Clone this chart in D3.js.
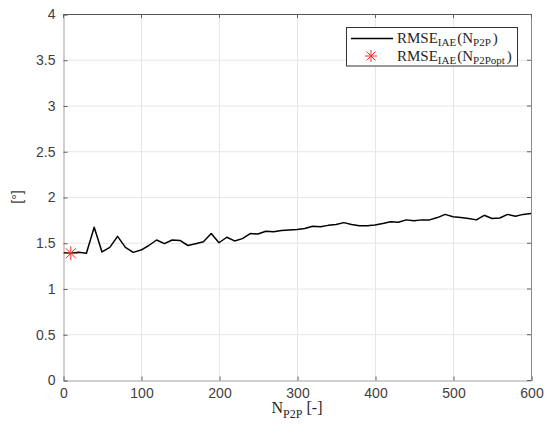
<!DOCTYPE html>
<html>
<head>
<meta charset="utf-8">
<script src="https://cdn.jsdelivr.net/npm/d3@7"></script>
<style>
  html, body { margin: 0; padding: 0; background: #fff; }
  svg { display: block; }
</style>
</head>
<body>
<svg id="chart" width="547" height="433"></svg>
<script>
// Window length N_P2P and resulting RMSE of the IAE
const nP2P = [1, 10, 20, 30, 40, 50, 60, 70, 80, 90, 100, 110, 120, 130, 140, 150, 160, 170, 180, 190, 200,
  210, 220, 230, 240, 250, 260, 270, 280, 290, 300, 310, 320, 330, 340, 350, 360, 370, 380, 390, 400,
  410, 420, 430, 440, 450, 460, 470, 480, 490, 500, 510, 520, 530, 540, 550, 560, 570, 580, 590, 600];
const rmse = [1.39, 1.385, 1.395, 1.385, 1.67, 1.40, 1.45, 1.57, 1.45, 1.395, 1.42, 1.47, 1.53, 1.49, 1.53, 1.525, 1.47, 1.49, 1.51, 1.60, 1.50,
  1.56, 1.52, 1.545, 1.60, 1.595, 1.625, 1.62, 1.635, 1.64, 1.645, 1.655, 1.68, 1.675, 1.69, 1.70, 1.72, 1.70, 1.685, 1.685, 1.695,
  1.71, 1.73, 1.725, 1.75, 1.74, 1.75, 1.75, 1.775, 1.81, 1.785, 1.775, 1.765, 1.75, 1.80, 1.765, 1.77, 1.81, 1.79, 1.81, 1.82];

// Optimal window
const optN = [10];
const optRmse = [1.385];

const xTicks = [0, 100, 200, 300, 400, 500, 600];
const yTicks = [0, 0.5, 1, 1.5, 2, 2.5, 3, 3.5, 4];

const svg = d3.select("#chart");
const m = { left: 63, right: 16, top: 14, bottom: 53 };
const W = 547, H = 433;
const x = d3.scaleLinear().domain([0, 600]).range([m.left, W - m.right]);
const y = d3.scaleLinear().domain([0, 4]).range([H - m.bottom, m.top]);

const sans = "'Liberation Sans', Arial, Helvetica, sans-serif";
const serif = "'Liberation Serif', 'Times New Roman', serif";
const tickColor = "#404040";

// grid
const grid = svg.append("g");
grid.selectAll("line.gx").data(xTicks.slice(1, -1)).join("line")
  .attr("x1", d => x(d) + 0.5).attr("x2", d => x(d) + 0.5)
  .attr("y1", y(0)).attr("y2", y(4))
  .attr("stroke", "#e6e6e6").attr("stroke-width", 1);
grid.selectAll("line.gy").data(yTicks.slice(1, -1)).join("line")
  .attr("x1", x(0)).attr("x2", x(600))
  .attr("y1", d => y(d) + 0.5).attr("y2", d => y(d) + 0.5)
  .attr("stroke", "#e6e6e6").attr("stroke-width", 1);

// axes (ticks pointing inward)
const xAxis = d3.axisBottom(x).tickValues(xTicks).tickSize(-4).tickPadding(8).tickFormat(d3.format("d"));
const yAxis = d3.axisLeft(y).tickValues(yTicks).tickSize(-4).tickPadding(8).tickFormat(d => String(d));

const gx = svg.append("g").attr("transform", `translate(0.5,${y(0) + 0.5})`).call(xAxis);
const gy = svg.append("g").attr("transform", `translate(${x(0) + 0.5},0.5)`).call(yAxis);
[gx, gy].forEach(g => {
  g.select(".domain").attr("stroke", "#a0a0a0");
  g.selectAll(".tick line").attr("stroke", "#606060");
  g.selectAll(".tick text").attr("fill", tickColor).style("font-family", sans).style("font-size", "14px");
});

// top and right frame with inward ticks
const frame = svg.append("g");
frame.append("line").attr("x1", x(0)).attr("x2", x(600) + 0.5).attr("y1", y(4) + 0.5).attr("y2", y(4) + 0.5).attr("stroke", "#555");
frame.append("line").attr("x1", x(600) + 0.5).attr("x2", x(600) + 0.5).attr("y1", y(4)).attr("y2", y(0) + 0.5).attr("stroke", "#8a8a8a");
frame.selectAll("line.tt").data(xTicks).join("line")
  .attr("x1", d => x(d) + 0.5).attr("x2", d => x(d) + 0.5)
  .attr("y1", y(4)).attr("y2", y(4) + 4).attr("stroke", "#606060");
frame.selectAll("line.rt").data(yTicks).join("line")
  .attr("x1", x(600) - 4).attr("x2", x(600))
  .attr("y1", d => y(d) + 0.5).attr("y2", d => y(d) + 0.5).attr("stroke", "#606060");

// data line
const pts = nP2P.map((n, i) => [n, rmse[i]]);
svg.append("path").datum(pts)
  .attr("fill", "none").attr("stroke", "#000").attr("stroke-width", 1.5)
  .attr("stroke-linejoin", "round")
  .attr("d", d3.line().x(d => x(d[0])).y(d => y(d[1])));

// asterisk marker
function asterisk(g, cx, cy, r) {
  const a = g.append("g").attr("transform", `translate(${cx},${cy})`)
    .attr("stroke", "#ff2a2a").attr("stroke-width", 1).attr("fill", "none");
  a.append("line").attr("x1", -r).attr("x2", r).attr("y1", 0).attr("y2", 0);
  a.append("line").attr("x1", 0).attr("x2", 0).attr("y1", -r).attr("y2", r);
  const k = r * 0.72;
  a.append("line").attr("x1", -k).attr("x2", k).attr("y1", -k).attr("y2", k);
  a.append("line").attr("x1", -k).attr("x2", k).attr("y1", k).attr("y2", -k);
}
optN.forEach((n, i) => asterisk(svg, x(n), y(optRmse[i]), 7));

// axis labels
const xl = svg.append("text")
  .attr("x", x(300)).attr("y", 413)
  .attr("text-anchor", "middle")
  .style("font-family", serif).style("font-size", "16px").attr("fill", "#262626");
xl.append("tspan").text("N");
xl.append("tspan").attr("dy", 5).style("font-size", "12px").text("P2P");
xl.append("tspan").attr("dy", -5).text(" [-]");

svg.append("text")
  .attr("transform", `translate(22,${y(2)}) rotate(-90)`)
  .attr("text-anchor", "middle")
  .style("font-family", sans).style("font-size", "14px").attr("fill", tickColor)
  .text("[°]");

// legend
const lg = svg.append("g");
lg.append("rect").attr("x", 346.5).attr("y", 27.5).attr("width", 171).attr("height", 38.5)
  .attr("fill", "#fff").attr("stroke", "#333").attr("stroke-width", 1);
lg.append("line").attr("x1", 351).attr("x2", 393).attr("y1", 38.5).attr("y2", 38.5)
  .attr("stroke", "#000").attr("stroke-width", 1.5);
asterisk(lg, 371, 56, 6);

function legendLabel(yy, sub) {
  const t = lg.append("text").attr("x", 397).attr("y", yy)
    .style("font-family", serif).style("font-size", "15px").attr("fill", "#262626");
  t.append("tspan").text("RMSE");
  t.append("tspan").attr("dy", 3).style("font-size", "11px").text("IAE");
  t.append("tspan").attr("dy", -3).attr("dx", 1).text("(N");
  t.append("tspan").attr("dy", 3).style("font-size", "11px").text(sub);
  t.append("tspan").attr("dy", -3).attr("dx", 2).text(")");
}
legendLabel(43, "P2P");
legendLabel(61, "P2Popt");
</script>
</body>
</html>
